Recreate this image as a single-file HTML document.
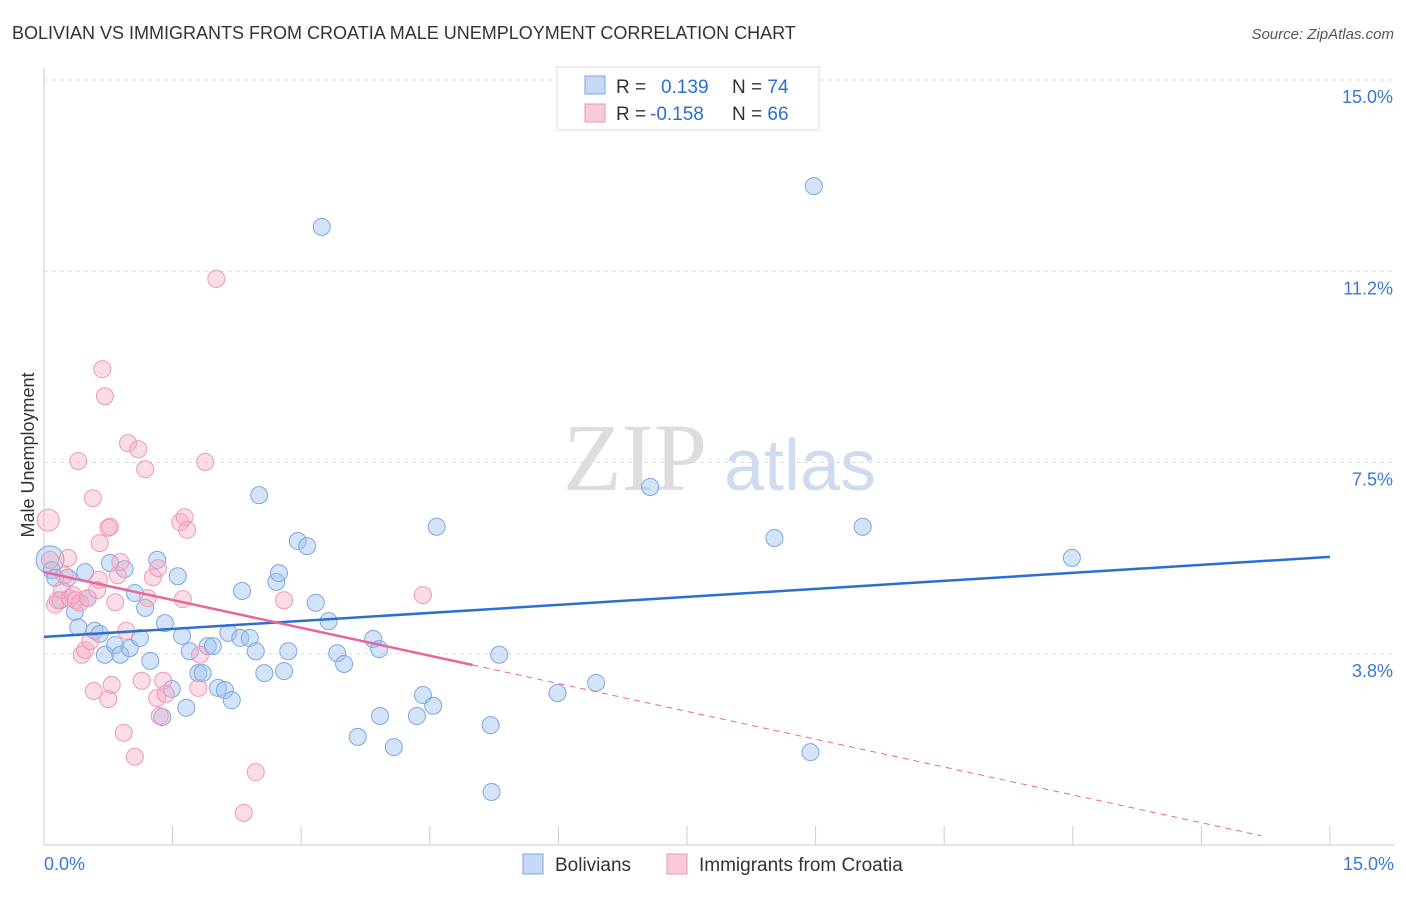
<!DOCTYPE html>
<html><head><meta charset="utf-8"><style>
body{margin:0;background:#fff;font-family:"Liberation Sans",sans-serif}
#c{position:relative;width:1406px;height:892px}
</style></head><body>
<div id="c">
<svg id="s" width="1406" height="892" xmlns="http://www.w3.org/2000/svg" font-family="Liberation Sans, sans-serif">
<text x="12" y="39" font-size="18" fill="#333">BOLIVIAN VS IMMIGRANTS FROM CROATIA MALE UNEMPLOYMENT CORRELATION CHART</text>
<text x="1394" y="39" font-size="15" fill="#555" font-style="italic" text-anchor="end">Source: ZipAtlas.com</text>
<text x="34" y="455" font-size="18" fill="#333" text-anchor="middle" transform="rotate(-90 34 455)">Male Unemployment</text>
<text x="635" y="490" font-size="96" fill="#ddd" font-family="Liberation Serif, serif" text-anchor="middle">ZIP</text>
<text x="800" y="490" font-size="72" fill="#cfdcf0" text-anchor="middle">atlas</text>
<g id="grid"></g><g id="pts"></g><g id="trend"></g>
<g>
<rect x="557" y="67" width="262" height="63" fill="#fff" stroke="#ddd"/>
<rect x="585" y="76" width="20" height="18" fill="#c5d8f5" stroke="#7fa6e0"/>
<rect x="585" y="104" width="20" height="18" fill="#f9cbd8" stroke="#ee9ab3"/>
<text x="616" y="93" font-size="19" fill="#333">R = <tspan fill="#2b6fd0" x="661">0.139</tspan><tspan fill="#333" x="732">N = </tspan><tspan fill="#2b6fd0">74</tspan></text>
<text x="616" y="120" font-size="19" fill="#333">R = <tspan fill="#2b6fd0" x="650">-0.158</tspan><tspan fill="#333" x="732">N = </tspan><tspan fill="#2b6fd0">66</tspan></text>
</g>
<g>
<rect x="523" y="854" width="20" height="20" fill="#c5d8f5" stroke="#7fa6e0"/>
<text x="555" y="871" font-size="19" fill="#333">Bolivians</text>
<rect x="667" y="854" width="20" height="20" fill="#f9cbd8" stroke="#ee9ab3"/>
<text x="699" y="871" font-size="19" fill="#333">Immigrants from Croatia</text>
</g>
</svg></div>
<script>
const yTicks=[15.0,11.25,7.5,3.75];
const yTickLabels=["15.0%","11.2%","7.5%","3.8%"];
const xTicks=[0,1.5,3,4.5,6,7.5,9,10.5,12,13.5,15];
const bolX=[0.07,0.09,0.13,0.28,0.19,0.36,0.40,0.48,0.51,0.59,0.65,0.71,0.77,0.83,0.89,0.94,1.00,1.06,1.12,1.18,1.24,1.32,1.38,1.41,1.49,1.56,1.61,1.66,1.70,1.80,1.85,1.91,1.97,2.03,2.11,2.15,2.19,2.29,2.31,2.40,2.47,2.51,2.57,2.71,2.74,2.80,2.85,2.96,3.07,3.17,3.24,3.32,3.42,3.50,3.66,3.84,3.91,3.92,4.08,4.35,4.42,4.54,4.58,5.21,5.22,5.31,5.99,6.44,7.07,8.52,8.94,8.98,9.55,11.99];
const bolY=[5.59,5.39,5.24,5.24,4.80,4.57,4.27,5.35,4.84,4.20,4.14,3.73,5.53,3.92,3.73,5.41,3.86,4.94,4.06,4.65,3.61,5.59,2.51,4.35,3.06,5.27,4.10,2.69,3.80,3.37,3.37,3.90,3.90,3.08,3.04,4.16,2.84,4.06,4.98,4.06,3.80,6.86,3.37,5.16,5.33,3.41,3.80,5.96,5.86,4.75,12.12,4.39,3.76,3.55,2.12,4.04,3.84,2.53,1.92,2.53,2.94,2.73,6.24,2.35,1.04,3.73,2.98,3.18,7.02,6.02,1.82,12.92,6.24,5.63];
const croX=[0.05,0.07,0.13,0.16,0.21,0.24,0.28,0.30,0.34,0.37,0.40,0.42,0.44,0.48,0.51,0.54,0.57,0.58,0.62,0.64,0.65,0.68,0.71,0.75,0.75,0.77,0.79,0.83,0.86,0.89,0.93,0.96,0.98,1.06,1.10,1.14,1.18,1.21,1.27,1.32,1.33,1.35,1.39,1.42,1.59,1.62,1.64,1.67,1.80,1.82,1.88,2.01,2.33,2.47,2.80,4.42];
const croY=[6.37,5.59,4.71,4.80,5.00,5.29,5.63,4.84,4.90,4.80,7.53,4.75,3.73,3.82,4.84,4.00,6.80,3.02,5.00,5.20,5.92,9.33,8.80,2.86,6.22,6.24,3.14,4.76,5.29,5.55,2.20,4.20,7.88,1.73,7.76,3.22,7.37,4.84,5.25,2.88,5.43,2.53,3.22,2.96,6.33,4.82,6.43,6.18,3.08,3.73,7.51,11.10,0.63,1.43,4.80,4.90];
const bolTrend=[0.139,4.08,5.65];
const croTrend=[5.35,3.53,0];
const NS="http://www.w3.org/2000/svg";
const X=v=>44+v*85.73, Y=v=>845-v*51;
function mk(t,a,p){const e=document.createElementNS(NS,t);for(const k in a)e.setAttribute(k,a[k]);p.appendChild(e);return e;}
const g=document.getElementById('grid');
yTicks.forEach((v,i)=>{
 const l=mk('line',{x1:44,x2:1394,y1:Y(v),y2:Y(v),stroke:'#ddd','stroke-dasharray':'4,4'},g);
 
 
 const t=mk('text',{x:1393,y:Y(v)+23,'font-size':18,fill:'#3a78d4','text-anchor':'end'},g);t.textContent=yTickLabels[i];
 
 
});
const ax=mk('line',{x1:44,x2:1394,y1:845,y2:845,stroke:'#ccc'},g);


const ay=mk('line',{x1:44,x2:44,y1:68,y2:845,stroke:'#ccc'},g);


xTicks.forEach(v=>{const l=mk('line',{x1:X(v),x2:X(v),y1:826,y2:845,stroke:'#ccc'},g);
 
 });
[[0,"0.0%",'start',44],[15,"15.0%",'end',1394]].forEach(a=>{const t=mk('text',{x:a[3],y:870,'font-size':18,fill:'#3a78d4','text-anchor':a[2]},g);t.textContent=a[1];
 
 });
const p=document.getElementById('pts');
bolX.forEach((v,i)=>{const c=mk('circle',{cx:X(v),cy:Y(bolY[i]),r:i==0?14:8.5,fill:'rgba(160,195,240,0.45)',stroke:'#7fa6e0','stroke-width':1},p);
 
 });
croX.forEach((v,i)=>{const c=mk('circle',{cx:X(v),cy:Y(croY[i]),r:i==0?11:8.5,fill:'rgba(245,170,195,0.4)',stroke:'#ee9ab3','stroke-width':1},p);
 
 });
const tr=document.getElementById('trend');
const b=mk('line',{x1:X(0),y1:Y(bolTrend[1]),x2:X(15),y2:Y(bolTrend[2]),stroke:'#2b6fd0','stroke-width':2.5},tr);


const slope=(croTrend[1]-croTrend[0])/5;
const c1=mk('line',{x1:X(0),y1:Y(croTrend[0]),x2:X(5),y2:Y(croTrend[1]),stroke:'#e8679a','stroke-width':2.5},tr);


const c2=mk('line',{x1:X(5),y1:Y(croTrend[1]),x2:X(14.2),y2:Y(croTrend[0]+slope*14.2),stroke:'#e8679a','stroke-width':1,'stroke-dasharray':'6,5'},tr);


</script>
</body></html>
